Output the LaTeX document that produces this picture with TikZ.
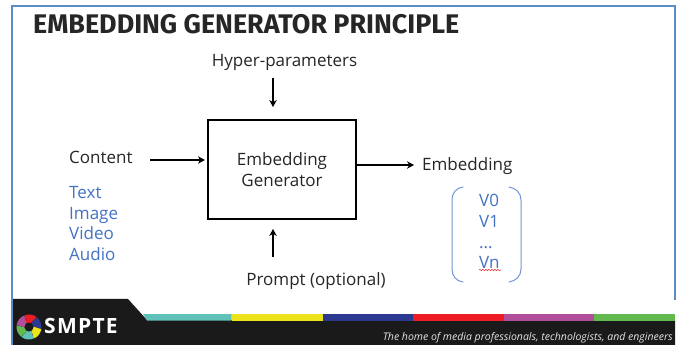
\documentclass[tikz,border=0pt]{standalone}
\usepackage{fontspec}
\setmainfont{Open Sans}
\newfontfamily\titlefont{Fira Sans}
\definecolor{bluetext}{HTML}{4472C4}
\definecolor{frameblue}{HTML}{5B8CC8}
\definecolor{ink}{HTML}{262626}
\definecolor{foot}{HTML}{1A1A1A}
\definecolor{cteal}{HTML}{5FC1B8}
\definecolor{cyellow}{HTML}{EDE31B}
\definecolor{cblue}{HTML}{2B3990}
\definecolor{cred}{HTML}{ED1C24}
\definecolor{cpurple}{HTML}{B24F9C}
\definecolor{cgreen}{HTML}{62B94D}
\usetikzlibrary{arrows.meta,decorations.pathmorphing}
\tikzset{
 label text/.style={font=\fontsize{17}{20}\selectfont,text=ink,inner sep=0pt},
 blue text/.style={font=\fontsize{17}{20}\selectfont,text=bluetext,inner sep=0pt,anchor=base west},
 flow/.style={draw=black,line width=2pt,-{Stealth[length=7pt,width=7.5pt]}},
 brace line/.style={draw=bluetext!75,line width=1pt,line cap=round},
}
\begin{document}
\begin{tikzpicture}[x=1pt,y=-1pt]
\useasboundingbox (0,0) rectangle (678,345);
\fill[white] (0,0) rectangle (678,345);
\draw[frameblue,line width=2pt] (12,345) -- (12,6.5) -- (675,6.5) -- (675,300);
% footer
\fill[foot!15] (13,298) rectangle (128,299);
\fill[foot] (13,299) -- (128,299) -- (147,320) -- (675,320) -- (675,345) -- (13,345) -- cycle;
\fill[cteal] (143,314) -- (231.5,314) -- (231.5,320.5) -- (147,320.5) -- cycle;
\fill[cyellow] (231.5,314) rectangle (322.5,320.5);
\fill[cblue] (322.5,314) rectangle (413,320.5);
\fill[cred] (413,314) rectangle (504,320.5);
\fill[cpurple] (504,314) rectangle (594,320.5);
\fill[cgreen] (594,314) rectangle (675,320.5);
% logo
\begin{scope}[shift={(29,327)}]
\foreach \a/\c in {-110/cred,-50/cblue,10/cyellow,70/cteal,130/cgreen,190/cpurple}{
  \fill[\c] (\a-15:4.5) -- (\a:12.5) arc[start angle=\a,end angle=\a+58,radius=12.5] -- (\a+45:4.5) -- cycle;
}
\fill[foot] (0,0) circle[radius=4.5];
\end{scope}
\node[anchor=base west,inner sep=0pt,text=white,font=\bfseries\fontsize{21}{24}\selectfont\addfontfeature{LetterSpace=6}] (smpte) at (44,333) {SMPTE};
\node[anchor=base east,inner sep=0pt,text=white!90!black,font=\fontsize{10.5}{13}\itshape\selectfont] (tagline) at (673,340) {The home of media professionals, technologists, and engineers};
% title
\node[anchor=base west,inner sep=0pt,text=ink,font=\titlefont\bfseries\fontsize{26.9}{30}\selectfont] (title) at (33,34) {EMBEDDING GENERATOR PRINCIPLE};
% box
\node[draw=black,line width=2.2pt,minimum width=148pt,minimum height=99pt,inner sep=0pt,align=center,text=ink,font=\fontsize{17}{21}\selectfont] (gen) at (282,169.5) {Embedding\\Generator};
% labels
\node[label text] (hyper) at (284.5,62) {Hyper-parameters};
\node[label text,anchor=base west] (content) at (69,163) {Content};
\node[label text,anchor=base west] (emb) at (422,170) {Embedding};
\node[label text] (prompt) at (316,281) {Prompt (optional)};
\node[blue text] (text) at (69,198) {Text};
\node[blue text] (image) at (69,219) {Image};
\node[blue text] (video) at (69,239) {Video};
\node[blue text] (audio) at (69,260) {Audio};
\node[blue text] (v0) at (479,206) {V0};
\node[blue text] (v1) at (479,227) {V1};
\node[blue text] (dots) at (479,248) {...};
\node[blue text] (vn) at (479,268) {Vn};
\draw[cred,line width=.5pt,decorate,decoration={snake,amplitude=.6pt,segment length=3pt}] (479,270) -- (501,270);
% connectors
\coordinate (hypEnd) at (273,78);
\coordinate (hypTip) at (273,107);
\coordinate (contEnd) at (150,160);
\coordinate (promptEnd) at (273,257);
\coordinate (promptTip) at (273,229);
\coordinate (outTip) at (414,165);
\draw[flow] (hypEnd) -- (hypTip);
\draw[flow] (contEnd) -- ([xshift=-2pt]gen.west |- contEnd);
\draw[flow] (promptEnd) -- (promptTip);
\draw[flow] (gen.east |- outTip) -- (outTip);
% braces
\draw[brace line] (463,187) .. controls (456,188) and (452,193) .. (452,200) -- (452,269) .. controls (452,276) and (456,281) .. (463,282);
\draw[brace line] (509,187) .. controls (516,188) and (521,193) .. (521,200) -- (521,269) .. controls (521,276) and (516,281) .. (509,282);
\end{tikzpicture}
\end{document}
